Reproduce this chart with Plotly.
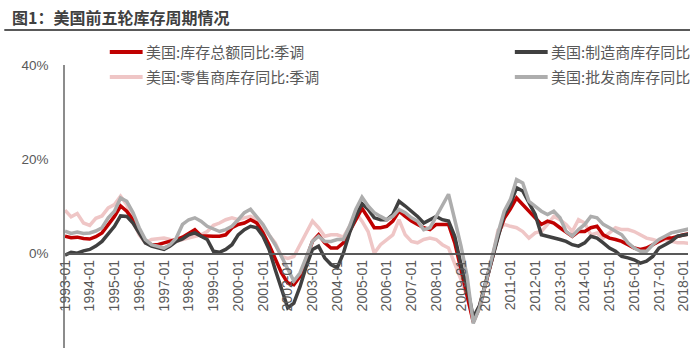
import plotly.graph_objects as go
import pandas as pd

# ---- data (quarterly readings, Jan/Apr/Jul/Oct, 1993-01 .. 2018-04) ----
dates = pd.date_range("1993-01-01", "2018-04-01", freq="QS-JAN")

total_yoy = [  # 美国:库存总额同比:季调
    3.7, 3.4, 3.5, 3.2,
    3.1, 3.6, 4.4, 6.3,
    7.9, 10.1, 9.0, 7.2,
    4.7, 2.6, 1.9, 1.9,
    2.3, 2.6, 3.0, 3.5,
    4.4, 5.1, 3.8, 3.7,
    3.7, 3.7, 4.0, 5.5,
    6.2, 6.5, 7.2, 6.5,
    4.4, 1.9, -0.9, -4.1,
    -6.2, -6.6, -4.8, -0.9,
    2.6, 4.0, 2.3, 1.2,
    1.2, 2.3, 4.7, 7.2,
    9.6, 7.6, 5.5, 5.5,
    5.8, 6.9, 9.0, 7.9,
    6.9, 6.2, 5.5, 5.1,
    6.2, 6.2, 6.2, 2.3,
    -3.4, -9.1, -14.5, -11.4,
    -6.5, -1.6, 3.8, 7.5,
    9.5, 11.8, 10.4, 9.0,
    7.6, 6.2, 6.9, 6.5,
    5.5, 4.7, 3.7, 4.7,
    4.7, 5.5, 5.8, 4.0,
    3.3, 3.0, 2.6, 1.9,
    1.2, 0.9, 1.2, 1.9,
    2.6, 3.3, 3.3, 3.7,
    4.0, 4.2,
]
manuf_yoy = [  # 美国:制造商库存同比
    -0.3, 0.3, 0.1, 0.6,
    0.9, 1.6, 2.6, 4.2,
    5.8, 8.0, 7.9, 6.5,
    4.4, 2.3, 1.6, 1.2,
    0.9, 1.6, 2.6, 3.1,
    4.0, 4.4, 3.7, 3.0,
    0.5, 0.3, 0.9, 1.9,
    4.0, 5.1, 5.8, 5.5,
    3.7, 0.9, -3.4, -7.7,
    -11.5, -10.5, -7.0, -2.7,
    0.9, 1.6, -0.9, -2.3,
    -3.0, 0.1, 4.4, 7.9,
    10.6, 9.4, 7.6, 7.2,
    7.2, 8.3, 11.1, 10.1,
    9.0, 7.9, 6.5, 7.2,
    7.9, 7.2, 6.9, 3.7,
    -2.3, -7.0, -13.5, -11.0,
    -6.0, -1.0, 4.0, 8.3,
    10.5, 14.0, 13.3, 10.8,
    8.3, 4.0, 3.7, 3.3,
    3.0, 2.6, 1.9, 1.6,
    2.3, 3.7, 3.3, 2.3,
    1.2, 0.5, -0.6, -0.9,
    -1.3, -2.0, -1.6, -0.6,
    1.2, 1.9, 2.6, 3.7,
    4.0, 4.2,
]
retail_yoy = [  # 美国:零售商库存同比:季调
    9.2, 7.8, 8.5, 6.5,
    6.0, 7.5, 8.0, 9.7,
    10.4, 12.2, 10.4, 6.9,
    4.0, 2.3, 3.0, 3.1,
    3.3, 3.0, 2.6, 3.0,
    3.3, 3.7, 4.0, 4.7,
    6.0, 6.5, 7.2, 7.6,
    7.2, 7.6, 7.9, 7.2,
    5.5, 3.7, 2.3, -0.6,
    -1.0, -0.6, 1.9, 4.7,
    6.9, 5.5, 3.7, 4.0,
    4.0, 3.5, 5.8, 8.7,
    6.9, 4.7, 0.1, 1.9,
    3.0, 4.0, 7.2, 4.0,
    2.6, 2.3, 3.0, 3.3,
    3.0, 1.9, 1.2, -2.0,
    -5.5, -9.1, -14.0, -11.0,
    -6.5, -1.5, 5.0, 6.2,
    5.8, 5.5, 4.7, 3.3,
    4.4, 4.7, 6.2, 7.9,
    7.2, 6.2, 4.7, 7.2,
    6.5, 4.0, 4.4, 3.3,
    4.4, 5.5, 5.1, 5.1,
    4.7, 4.0, 3.3, 3.0,
    2.6, 3.0, 2.6, 2.3,
    2.3, 2.2,
]
wholesale_yoy = [  # 美国:批发商库存同比
    4.8, 4.3, 4.6, 4.3,
    4.4, 4.8, 5.5, 7.6,
    9.0, 11.8, 11.1, 8.7,
    5.5, 3.0, 1.9, 1.6,
    1.2, 1.9, 3.3, 6.2,
    7.2, 7.6, 6.9, 5.8,
    5.3, 4.7, 5.1, 5.8,
    7.2, 8.7, 9.4, 7.9,
    6.2, 4.0, 1.9, -0.6,
    -3.4, -5.8, -4.1, -0.9,
    2.6, 3.7, 2.6, 2.6,
    3.0, 3.0, 5.8, 9.4,
    12.0, 10.1, 8.7, 7.9,
    7.2, 7.9, 9.4, 8.7,
    7.6, 6.9, 5.1, 5.5,
    7.9, 10.1, 12.6, 7.2,
    1.6, -4.8, -14.8, -11.5,
    -6.0, -1.0, 4.4, 9.0,
    11.5, 15.7, 15.0, 11.1,
    10.1, 9.0, 8.3, 9.0,
    7.6, 4.7, 3.7, 5.1,
    6.2, 7.9, 7.6, 6.2,
    5.5, 4.7, 4.0, 2.3,
    1.2, 0.5, 0.5, 1.9,
    3.0, 3.7, 4.4, 4.7,
    5.1, 5.3,
]

series_names = ["美国:库存总额同比:季调", "美国:制造商库存同比",
                "美国:零售商库存同比:季调", "美国:批发商库存同比"]
y_tick_vals = [-20, 0, 20, 40]
y_tick_text = ["-20%", "0%", "20%", "40%"]
x_tick_vals = [f"{y}-01-01" for y in range(1993, 2019)]
title_text = "图1：美国前五轮库存周期情况"

# ---- styling ----
colors = {"total": "#C00000", "manuf": "#404040", "retail": "#EFC6C6", "whole": "#ADADAD"}
W, H = 691, 354
ML, MR, MT, MB = 65, 0, 65, 6
PW, PH = W - ML - MR, H - MT - MB


def px_x(px):
    return (px - ML) / PW


def px_y(py):
    return (H - MB - py) / PH


fig = go.Figure()
draw_order = [
    (retail_yoy, colors["retail"], series_names[2]),
    (total_yoy, colors["total"], series_names[0]),
    (manuf_yoy, colors["manuf"], series_names[1]),
    (wholesale_yoy, colors["whole"], series_names[3]),
]
for vals, col, name in draw_order:
    fig.add_trace(go.Scatter(x=dates, y=vals, mode="lines", name=name,
                             line=dict(color=col, width=3.5), showlegend=False,
                             hoverinfo="skip"))

axis_font = dict(family="Liberation Sans, Arial, sans-serif", size=14, color="#595959")
cjk = "Noto Sans CJK SC, sans-serif"

fig.update_layout(
    width=W, height=H,
    margin=dict(l=ML, r=MR, t=MT, b=MB, pad=0),
    paper_bgcolor="white", plot_bgcolor="white",
    title=dict(text=f"<b>{title_text}</b>", font=dict(family=cjk, size=16, color="#404040"),
               xref="container", yref="container", x=12 / W, xanchor="left",
               y=1 - 18 / H, yanchor="middle"),
    xaxis=dict(type="date", range=["1993-01-01", "2018-03-05"],
               anchor="free", position=1 / 3,
               showline=True, linecolor="#595959", linewidth=1.5,
               showgrid=False, zeroline=False, ticks="",
               tickvals=x_tick_vals, tickformat="%Y-%m", tickangle=-90,
               ticklabeloverflow="allow",
               tickfont=axis_font),
    yaxis=dict(range=[-20, 40], showline=True, linecolor="#8C8C8C", linewidth=1.5,
               showgrid=False, zeroline=False, ticks="",
               tickvals=y_tick_vals, ticktext=y_tick_text,
               tickfont=dict(family="Liberation Sans, Arial, sans-serif", size=13.5, color="#595959"),
               ticklabelstandoff=12),
)

# title underline
fig.add_shape(type="line", xref="paper", yref="paper",
              x0=px_x(4), x1=px_x(W + 2), y0=px_y(30), y1=px_y(30),
              line=dict(color="#595959", width=2))

# manual two-column legend
legend_items = [
    (series_names[0], colors["total"], 110, 52),
    (series_names[1], colors["manuf"], 517, 52),
    (series_names[2], colors["retail"], 110, 77),
    (series_names[3], colors["whole"], 517, 77),
]
for name, col, lx, ly in legend_items:
    fig.add_shape(type="line", xref="paper", yref="paper",
                  x0=px_x(lx), x1=px_x(lx + 33), y0=px_y(ly), y1=px_y(ly),
                  line=dict(color=col, width=4))
    fig.add_annotation(text=name, xref="paper", yref="paper",
                       x=px_x(lx + 34), y=px_y(ly), xanchor="left", yanchor="middle",
                       showarrow=False, font=dict(family=cjk, size=15, color="#595959"))

fig.write_html("out.html")
